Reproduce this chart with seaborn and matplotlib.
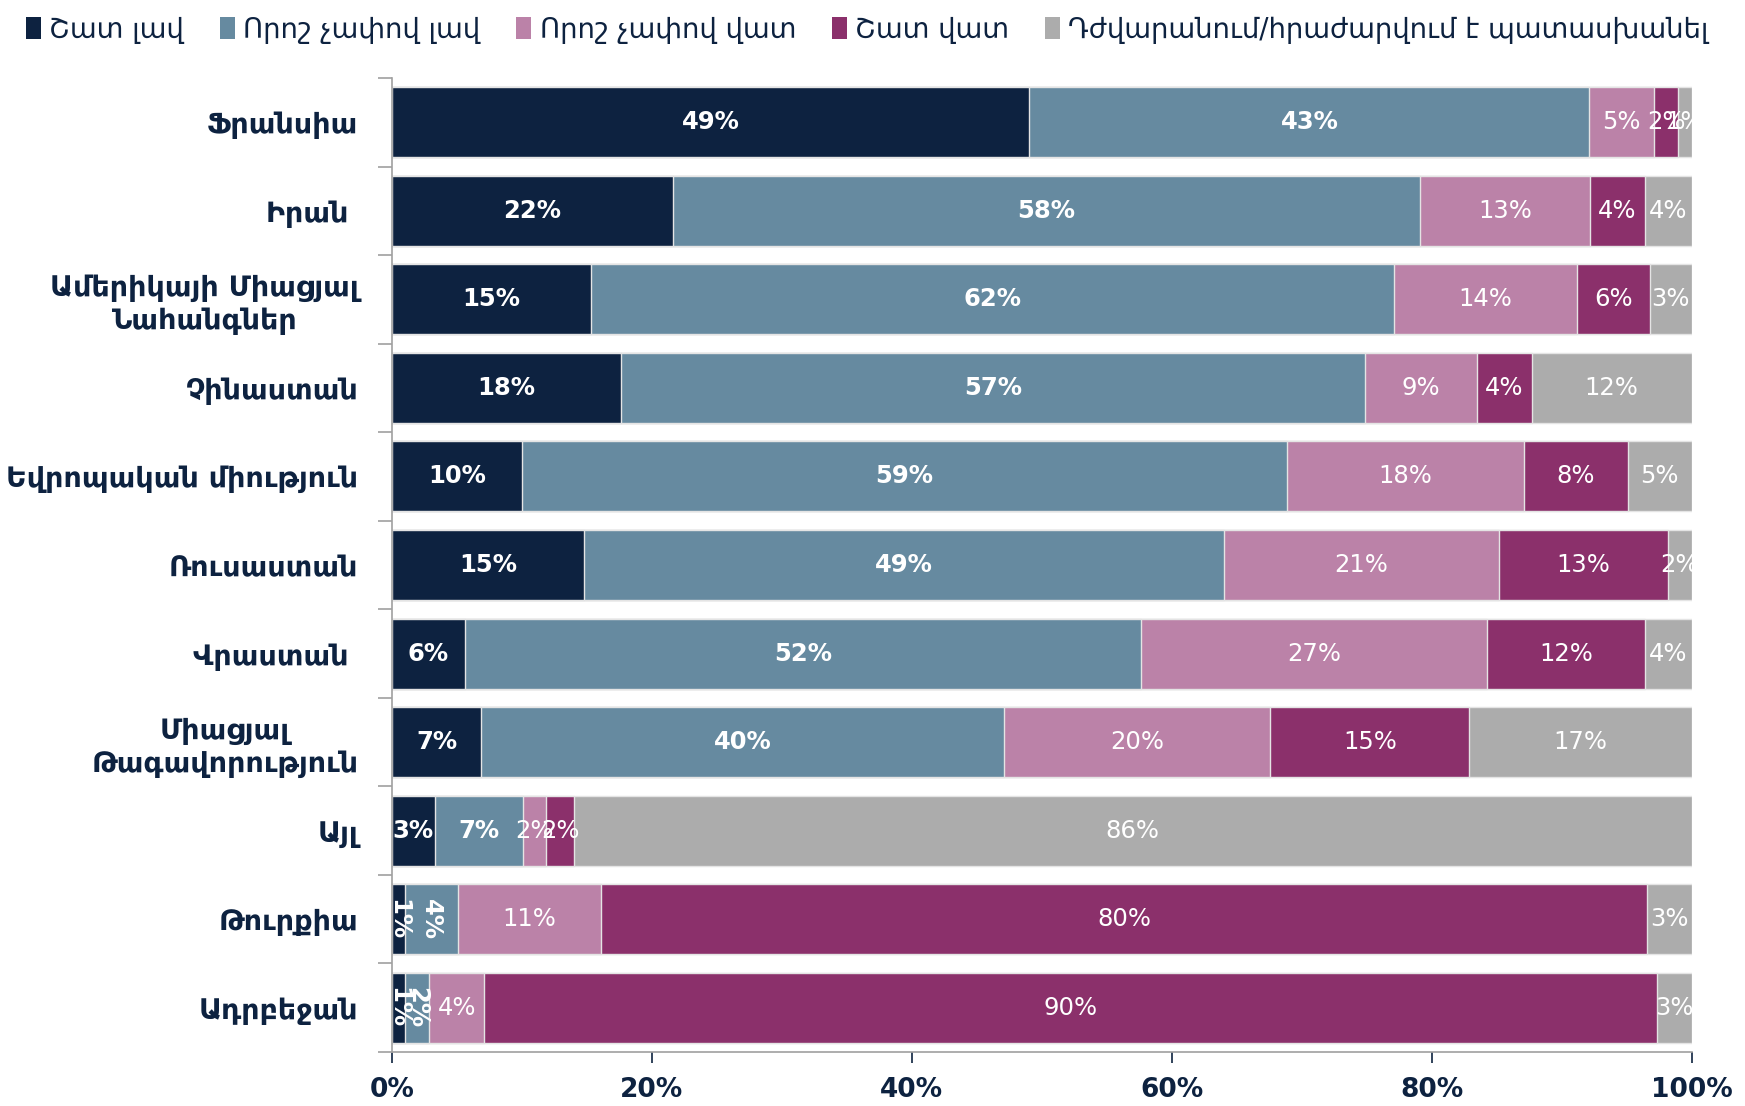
import numpy as np
import pandas as pd
import matplotlib.pyplot as plt
import seaborn as sns
from matplotlib.patches import Patch

# -----------------------------
# Data (percent of respondents)
# -----------------------------
countries = ["Ֆրանսիա", "Իրան ", "Ամերիկայի Միացյալ\nՆահանգներ", "Չինաստան",
             "Եվրոպական միություն", "Ռուսաստան", "Վրաստան ",
             "Միացյալ\nԹագավորություն", "Այլ", "Թուրքիա", "Ադրբեջան"]
answers = ["Շատ լավ", "Որոշ չափով լավ", "Որոշ չափով վատ", "Շատ վատ",
           "Դժվարանում/հրաժարվում է պատասխանել"]

very_good = [49.06, 21.6, 15.3, 17.6, 10.0, 14.8, 5.65, 6.9, 3.3, 1.0, 1.0]
somewhat_good = [43.07, 57.5, 61.8, 57.3, 58.9, 49.2, 52.0, 40.2, 6.8, 4.1, 1.9]
somewhat_bad = [4.97, 13.1, 14.1, 8.6, 18.2, 21.2, 26.6, 20.5, 1.8, 11.0, 4.2]
very_bad = [1.88, 4.2, 5.6, 4.2, 8.0, 13.0, 12.2, 15.3, 2.1, 80.5, 90.2]
no_answer = [1.02, 3.6, 3.2, 12.3, 4.9, 1.8, 3.55, 17.1, 86.0, 3.4, 2.7]

colors = ["#0d2240", "#668aa0", "#bb82a8", "#8b306b", "#acacac"]
navy = "#0d2240"

series = np.array([very_good, somewhat_good, somewhat_bad, very_bad, no_answer])
cum = np.cumsum(series, axis=0)

# labels drawn vertically in thin segments
rotated = {(9, 0), (9, 1), (10, 0), (10, 1)}

# -----------------------------
# Plot
# -----------------------------
sns.set_theme(style="white")
plt.rcParams["font.family"] = ["DejaVu Sans"]

fig, ax = plt.subplots(figsize=(17.45, 11.06), dpi=100)
fig.subplots_adjust(left=0.2245, right=0.9694, bottom=0.0488, top=0.9295)

# overlay cumulative bars, widest first
for i in reversed(range(len(answers))):
    df = pd.DataFrame({"country": countries, "value": cum[i]})
    sns.barplot(data=df, x="value", y="country", color=colors[i], orient="h",
                width=0.79, saturation=1, edgecolor="#e4e4e4", linewidth=1,
                ax=ax)

# segment labels
for r in range(len(countries)):
    for i in range(len(answers)):
        v = series[i, r]
        x = cum[i, r] - v / 2
        rot = -90 if (r, i) in rotated else 0
        ax.text(x, r, f"{int(round(v))}%", ha="center", va="center",
                color="white", fontsize=17.5, rotation=rot,
                fontweight="bold" if i < 2 else "normal", clip_on=True)

ax.set_xlim(0, 100)
ax.set_ylim(10.5, -0.5)
ax.set_xticks(np.arange(0, 101, 20))
ax.set_xticklabels([f"{t}%" for t in range(0, 101, 20)], fontsize=19,
                   fontweight="bold", color=navy)
ax.set_xlabel("")
ax.set_ylabel("")
for lab in ax.get_yticklabels():
    lab.set_fontsize(20.5)
    lab.set_fontweight("bold")
    lab.set_color(navy)
    lab.set_multialignment("center")

ax.set_yticks(np.arange(-0.5, 11, 1), minor=True)
ax.tick_params(axis="y", which="major", length=0, pad=24)
ax.tick_params(axis="y", which="minor", length=10, color="#a0a0a0", width=1.2,
               left=True)
ax.tick_params(axis="x", length=8, color=navy, width=1.2, bottom=True, pad=10)

sns.despine(ax=ax, top=True, right=True)
ax.spines["left"].set_color("#a0a0a0")
ax.spines["bottom"].set_color("#a0a0a0")
ax.spines["left"].set_linewidth(1.2)
ax.spines["bottom"].set_linewidth(1.2)

handles = [Patch(facecolor=c, edgecolor="none") for c in colors]
fig.legend(handles, answers, loc="upper center", bbox_to_anchor=(0.497, 1.008),
           ncol=5, frameon=False, fontsize=19.8, handlelength=0.55,
           handleheight=0.85, handletextpad=0.3, columnspacing=1.3,
           labelcolor=navy)

plt.savefig("out.png", dpi=100)
